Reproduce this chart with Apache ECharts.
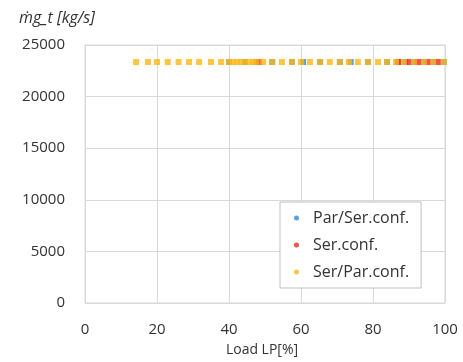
<!DOCTYPE html>
<html><head><meta charset="utf-8">
<script src="https://cdn.jsdelivr.net/npm/echarts@6/dist/echarts.min.js"></script>
<style>html,body{margin:0;padding:0;background:#fff}#c{width:463px;height:362px}</style>
</head><body><div id="c"></div>
<script>
const xTicks = [0, 20, 40, 60, 80, 100];
const yTicks = [0, 5000, 10000, 15000, 20000, 25000];
const seriesNames = ['Par/Ser.conf.', 'Ser.conf.', 'Ser/Par.conf.'];
const parSerX = [40, 44.4, 47.6, 52, 57.5, 60.6, 65.3, 70.8, 73.8, 78.6, 83.9, 86.9, 88.9, 91.4, 94.2, 96.7, 99.7];
const parSerY = [23350, 23350, 23350, 23350, 23350, 23350, 23350, 23350, 23350, 23350, 23350, 23350, 23350, 23350, 23350, 23350, 23350];
const serX = [48.4, 87, 89.8, 92.5, 95.3, 98, 100.4];
const serY = [23350, 23350, 23350, 23350, 23350, 23350, 23350];
const serParX = [14.2, 17.5, 20, 23, 26, 28.9, 31.7, 35, 37.8, 40, 41.1, 42.2, 43.3, 44.4, 45.6, 46.7, 47.6, 49.5, 52, 54.7, 57.5, 60, 62.5, 65.3, 68, 70.8, 73.3, 75.8, 78.6, 81.4, 83.9, 86.4, 88.6, 91.4, 94.2, 96.7, 99.7];
const serParY = serParX.map(() => 23350);

const zip = (xs, ys) => xs.map((x, i) => [x, ys[i]]);
const font = 'Open Sans, DejaVu Sans, sans-serif';
const txt = '#333333';
const chart = echarts.init(document.getElementById('c'), null, {renderer: 'canvas'});
chart.setOption({
  animation: false,
  backgroundColor: '#fff',
  grid: {left: 85, right: 18, top: 45, bottom: 58, show: true, borderColor: '#d9d9d9', borderWidth: 1},
  title: {text: 'ṁg_t [kg/s]', left: 14, top: 5,
    textStyle: {fontFamily: font, fontStyle: 'italic', fontWeight: 'normal', fontSize: 16, color: txt}},
  xAxis: {type: 'value', min: 0, max: 100, interval: 20,
    name: 'Load LP[%]', nameLocation: 'middle', nameGap: 40,
    nameTextStyle: {fontFamily: font, fontSize: 14, color: txt, padding: [0, 0, 0, -6]},
    axisLine: {show: false}, axisTick: {show: false},
    axisLabel: {fontFamily: font, fontSize: 15, color: txt, margin: 19},
    splitLine: {show: true, lineStyle: {color: '#d9d9d9', width: 1}}},
  yAxis: {type: 'value', min: 0, max: 25000, interval: 5000,
    axisLine: {show: false}, axisTick: {show: false},
    axisLabel: {fontFamily: font, fontSize: 15, color: txt, margin: 20, formatter: v => String(v)},
    splitLine: {show: true, lineStyle: {color: '#d9d9d9', width: 1}}},
  legend: {
    orient: 'vertical', left: 280, top: 202,
    padding: [6, 12, 6, 14], itemGap: 7,
    borderColor: '#bfbfbf', borderWidth: 1, backgroundColor: '#fff',
    itemWidth: 5, itemHeight: 5, icon: 'circle',
    textStyle: {fontFamily: font, fontSize: 16, color: txt, padding: [0, 0, 0, 9], lineHeight: 20},
    data: seriesNames
  },
  series: [
    {name: seriesNames[0], type: 'scatter', symbol: 'rect', symbolSize: 6, itemStyle: {color: '#2E8BD0'}, data: zip(parSerX, parSerY)},
    {name: seriesNames[1], type: 'scatter', symbol: 'rect', symbolSize: 6, itemStyle: {color: '#FF2020'}, data: zip(serX, serY)},
    {name: seriesNames[2], type: 'scatter', symbol: 'rect', symbolSize: 6, itemStyle: {color: '#FDB813'}, data: zip(serParX, serParY)}
  ]
});
</script></body></html>
